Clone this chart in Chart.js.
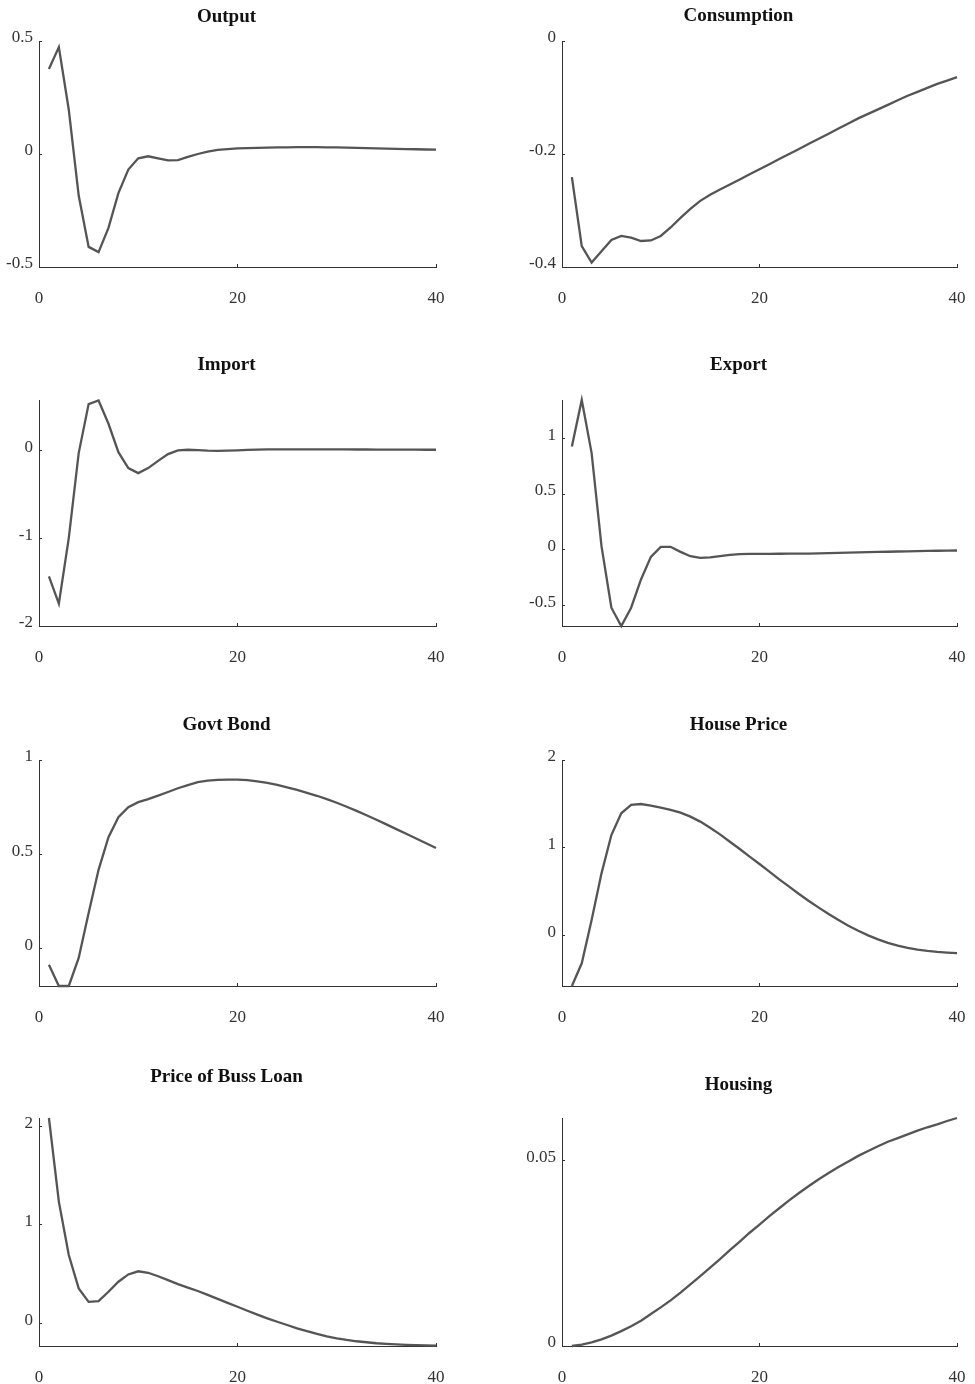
<!DOCTYPE html>
<html>
<head>
<meta charset="utf-8">
<script src="https://cdn.jsdelivr.net/npm/chart.js@4.4.1/dist/chart.umd.min.js"></script>
<style>
  html, body { margin: 0; padding: 0; background: #ffffff; }
  body { width: 975px; height: 1384px; position: relative; overflow: hidden; }
  canvas { position: absolute; }
</style>
</head>
<body>
<script>
// Quarters after the shock
const periods = [1, 2, 3, 4, 5, 6, 7, 8, 9, 10, 11, 12, 13, 14, 15, 16, 17, 18, 19, 20,
                 21, 22, 23, 24, 25, 26, 27, 28, 29, 30, 31, 32, 33, 34, 35, 36, 37, 38, 39, 40];
const xTicks = [0, 20, 40];

// Impulse responses
const output = [0.376, 0.473, 0.196, -0.184, -0.411, -0.434, -0.327, -0.173, -0.069, -0.019,
                -0.010, -0.019, -0.028, -0.027, -0.013, 0.000, 0.010, 0.018, 0.022, 0.025,
                0.026, 0.027, 0.028, 0.029, 0.029, 0.030, 0.030, 0.030, 0.029, 0.029,
                0.028, 0.027, 0.026, 0.025, 0.024, 0.023, 0.022, 0.021, 0.020, 0.019];
const consumption = [-0.241, -0.363, -0.392, -0.372, -0.352, -0.345, -0.348, -0.354, -0.353, -0.345,
                     -0.330, -0.313, -0.297, -0.283, -0.272, -0.263, -0.254, -0.245, -0.236, -0.227,
                     -0.218, -0.209, -0.200, -0.191, -0.182, -0.173, -0.164, -0.155, -0.146, -0.137,
                     -0.129, -0.121, -0.113, -0.105, -0.097, -0.090, -0.083, -0.076, -0.070, -0.064];
const imports = [-1.435, -1.746, -0.998, -0.030, 0.528, 0.569, 0.304, -0.019, -0.201, -0.258,
                 -0.201, -0.118, -0.042, 0.000, 0.008, 0.004, -0.002, -0.004, -0.002, 0.002,
                 0.006, 0.010, 0.012, 0.013, 0.013, 0.013, 0.013, 0.013, 0.012, 0.012,
                 0.012, 0.011, 0.011, 0.010, 0.010, 0.010, 0.009, 0.009, 0.008, 0.008];
const exports = [0.926, 1.342, 0.866, 0.033, -0.518, -0.682, -0.518, -0.265, -0.063, 0.027,
                 0.027, -0.018, -0.057, -0.071, -0.068, -0.057, -0.045, -0.039, -0.036, -0.036,
                 -0.036, -0.035, -0.034, -0.034, -0.033, -0.031, -0.029, -0.027, -0.025, -0.023,
                 -0.021, -0.019, -0.017, -0.015, -0.013, -0.011, -0.010, -0.008, -0.007, -0.006];
const govtBond = [-0.087, -0.200, -0.200, -0.051, 0.187, 0.417, 0.590, 0.696, 0.749, 0.776,
                  0.792, 0.811, 0.830, 0.850, 0.867, 0.882, 0.890, 0.894, 0.896, 0.896,
                  0.893, 0.887, 0.879, 0.868, 0.855, 0.841, 0.826, 0.810, 0.792, 0.773,
                  0.752, 0.730, 0.707, 0.683, 0.658, 0.633, 0.608, 0.583, 0.558, 0.533];
const housePrice = [-0.578, -0.319, 0.175, 0.707, 1.144, 1.392, 1.487, 1.498, 1.479, 1.456,
                    1.430, 1.399, 1.354, 1.297, 1.228, 1.152, 1.068, 0.985, 0.897, 0.814,
                    0.726, 0.639, 0.555, 0.471, 0.392, 0.316, 0.243, 0.175, 0.110, 0.053,
                    0.000, -0.046, -0.085, -0.117, -0.143, -0.163, -0.178, -0.189, -0.197, -0.203];
const bussLoanPrice = [2.085, 1.237, 0.695, 0.356, 0.220, 0.227, 0.322, 0.424, 0.498, 0.530,
                       0.515, 0.480, 0.440, 0.400, 0.365, 0.330, 0.290, 0.250, 0.210, 0.170,
                       0.130, 0.090, 0.053, 0.018, -0.015, -0.050, -0.078, -0.105, -0.130, -0.150,
                       -0.167, -0.180, -0.190, -0.200, -0.207, -0.212, -0.216, -0.219, -0.221, -0.225];
const housing = [0.0000, 0.0004, 0.0010, 0.0018, 0.0028, 0.0040, 0.0053, 0.0068, 0.0086, 0.0104,
                 0.0123, 0.0144, 0.0166, 0.0188, 0.0211, 0.0234, 0.0258, 0.0281, 0.0305, 0.0327,
                 0.0350, 0.0371, 0.0392, 0.0412, 0.0431, 0.0449, 0.0466, 0.0482, 0.0497, 0.0512,
                 0.0525, 0.0538, 0.0550, 0.0560, 0.0570, 0.0580, 0.0589, 0.0597, 0.0606, 0.0614];

// Y-axis tick values and limits per panel
const outputTicks = [-0.5, 0, 0.5];
const consumptionTicks = [-0.4, -0.2, 0];
const importTicks = [-2, -1, 0];
const exportTicks = [-0.5, 0, 0.5, 1];
const govtBondTicks = [0, 0.5, 1];
const housePriceTicks = [0, 1, 2];
const bussLoanTicks = [0, 1, 2];
const housingTicks = [0, 0.05];

const outputRange = [-0.5, 0.5];
const consumptionRange = [-0.4, 0];
const importRange = [-2, 0.575];
const exportRange = [-0.682, 1.342];
const govtBondRange = [-0.2, 1];
const housePriceRange = [-0.578, 2];
const bussLoanRange = [-0.228, 2.085];
const housingRange = [0, 0.0614];

// Page layout: two columns of axes, four rows.
// x0 is the canvas' left edge, left/right the plot edges, titleX the title centre.
const columns = [
  { x0: 0,   left: 39,  right: 436, titleX: 226.5 },
  { x0: 505, left: 562, right: 957, titleX: 738.3 }
];
const panels = [
  { title: 'Output',             series: output,        ticks: outputTicks,      range: outputRange,      col: 0, top: 41,   bottom: 267,  titleY: 17 },
  { title: 'Consumption',        series: consumption,   ticks: consumptionTicks, range: consumptionRange, col: 1, top: 41,   bottom: 267,  titleY: 16.5 },
  { title: 'Import',             series: imports,       ticks: importTicks,      range: importRange,      col: 0, top: 400,  bottom: 626,  titleY: 365 },
  { title: 'Export',             series: exports,       ticks: exportTicks,      range: exportRange,      col: 1, top: 400,  bottom: 626,  titleY: 365 },
  { title: 'Govt Bond',          series: govtBond,      ticks: govtBondTicks,    range: govtBondRange,    col: 0, top: 760,  bottom: 986,  titleY: 724.8 },
  { title: 'House Price',        series: housePrice,    ticks: housePriceTicks,  range: housePriceRange,  col: 1, top: 760,  bottom: 986,  titleY: 724.8 },
  { title: 'Price of Buss Loan', series: bussLoanPrice, ticks: bussLoanTicks,    range: bussLoanRange,    col: 0, top: 1118, bottom: 1346, titleY: 1077.3 },
  { title: 'Housing',            series: housing,       ticks: housingTicks,     range: housingRange,     col: 1, top: 1118, bottom: 1346, titleY: 1085.2 }
];

const SERIF = "'Liberation Serif', 'Times New Roman', serif";
const AXIS_COLOR = '#333333';
const LINE_COLOR = '#555555';
const TITLE_SIZE = 19;
const TITLE_BAND = 60;   // space above the axes reserved for the title
const X_AXIS_BAND = 45;  // space below the axes for the x tick labels

panels.forEach(p => {
  const c = columns[p.col];
  const y0 = p.top - TITLE_BAND;
  const height = p.bottom - y0 + X_AXIS_BAND;
  // the title spans the whole canvas, so its width sets the title centre
  const width = 2 * (c.titleX - c.x0);
  const plotRightGap = c.x0 + width - c.right;
  const yAxisWidth = c.left - c.x0;
  const lh = TITLE_SIZE * 1.2;
  const titleTop = p.titleY - y0 - lh / 2;
  const titleBottom = TITLE_BAND - titleTop - lh;

  const canvas = document.createElement('canvas');
  canvas.width = Math.round(width);
  canvas.height = height;
  canvas.style.left = c.x0 + 'px';
  canvas.style.top = y0 + 'px';
  canvas.style.width = Math.round(width) + 'px';
  canvas.style.height = height + 'px';
  document.body.appendChild(canvas);

  new Chart(canvas, {
    type: 'line',
    data: {
      datasets: [{
        data: periods.map((t, i) => ({ x: t, y: p.series[i] })),
        borderColor: LINE_COLOR,
        borderWidth: 2.3,
        pointRadius: 0,
        tension: 0,
        fill: false,
        clip: false
      }]
    },
    options: {
      responsive: false,
      animation: false,
      devicePixelRatio: 1,
      layout: { padding: 0, autoPadding: false },
      plugins: {
        legend: { display: false },
        tooltip: { enabled: false },
        title: {
          display: true,
          text: p.title,
          color: '#111111',
          font: { family: SERIF, size: TITLE_SIZE, weight: 'bold' },
          padding: { top: titleTop, bottom: titleBottom }
        }
      },
      scales: {
        x: {
          type: 'linear',
          min: 0,
          max: 40,
          afterBuildTicks: s => { s.ticks = xTicks.map(v => ({ value: v })); },
          afterFit: s => {
            s.height = X_AXIS_BAND;
            s.paddingLeft = 0;
            s.paddingRight = canvas.width - (c.right - c.x0);
          },
          border: { display: true, color: AXIS_COLOR, width: 1 },
          grid: { drawOnChartArea: false, drawTicks: true, tickLength: -3, tickColor: AXIS_COLOR, tickWidth: 1 },
          ticks: {
            autoSkip: false, maxRotation: 0, padding: 24,
            color: '#333333',
            font: { family: SERIF, size: 17 },
            callback: v => String(v)
          }
        },
        y: {
          type: 'linear',
          min: p.range[0],
          max: p.range[1],
          afterBuildTicks: s => { s.ticks = p.ticks.map(v => ({ value: v })); },
          afterFit: s => { s.width = yAxisWidth; s.paddingTop = 0; s.paddingBottom = 0; },
          border: { display: true, color: AXIS_COLOR, width: 1 },
          grid: { drawOnChartArea: false, drawTicks: true, tickLength: -3, tickColor: AXIS_COLOR, tickWidth: 1 },
          ticks: {
            autoSkip: false, padding: 9, labelOffset: -3,
            color: '#333333',
            font: { family: SERIF, size: 17 },
            callback: v => String(v)
          }
        }
      }
    }
  });
});
</script>
</body>
</html>
